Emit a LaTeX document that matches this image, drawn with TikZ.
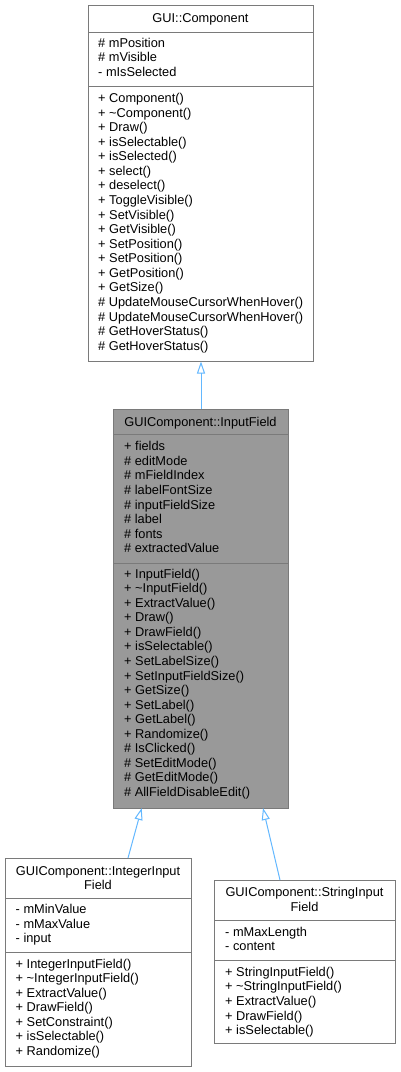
\documentclass[tikz,border=0pt]{standalone}
\usepackage{fontspec}
\setmainfont{Liberation Sans}
\usetikzlibrary{arrows.meta}
\definecolor{edgeblue}{HTML}{63B8FF}
\definecolor{boxline}{HTML}{7A7A7A}
\definecolor{curfill}{HTML}{999999}
\begin{document}
\begin{tikzpicture}[x=1pt,y=-1pt,
  box/.style={draw=boxline, line width=1pt, fill=white, inner sep=0pt, anchor=north west},
  curbox/.style={box, fill=curfill},
  mem/.style={anchor=base west, inner sep=0pt, font=\fontsize{12.8}{14.57}\selectfont},
  ttl/.style={anchor=base, inner sep=0pt, font=\fontsize{12.8}{14.57}\selectfont},
  sep/.style={draw=boxline, line width=1pt},
  inh/.style={draw=edgeblue, line width=1pt, -{Triangle[open, length=12pt, width=8pt]}}]
\useasboundingbox[fill=white] (0,0) rectangle (400,1072);

% ---- GUI::Component
\node[box, minimum width=225pt, minimum height=355.5pt] (comp) at (88,5) {};
\draw[sep] (88,32) -- (313,32);
\draw[sep] (88,86) -- (313,86);
\node[ttl] (compT) at (200.5,22.7) {GUI::Component};
\foreach \t [count=\i] in {\# mPosition, \# mVisible, - mIsSelected}
  \node[mem] (ca\i) at (98,47+14.57*\i-14.57) {\t};
\foreach \t [count=\i] in {+ Component(), + \textasciitilde Component(), + Draw(), + isSelectable(), + isSelected(), + select(), + deselect(), + ToggleVisible(), + SetVisible(), + GetVisible(), + SetPosition(), + SetPosition(), + GetPosition(), + GetSize(), \# UpdateMouseCursorWhenHover(), \# UpdateMouseCursorWhenHover(), \# GetHoverStatus(), \# GetHoverStatus()}
  \node[mem] (cm\i) at (98,102.5+14.57*\i-14.57) {\t};

% ---- GUIComponent::InputField
\node[curbox, minimum width=175pt, minimum height=399pt] (inp) at (113,409) {};
\draw[sep] (113,434) -- (288,434);
\draw[sep] (113,563) -- (288,563);
\node[ttl] (inpT) at (200.5,426) {GUIComponent::InputField};
\foreach \t [count=\i] in {+ fields, \# editMode, \# mFieldIndex, \# labelFontSize, \# inputFieldSize, \# label, \# fonts, \# extractedValue}
  \node[mem] (ia\i) at (124,450.8+14.57*\i-14.57) {\t};
\foreach \t [count=\i] in {+ InputField(), + \textasciitilde InputField(), + ExtractValue(), + Draw(), + DrawField(), + isSelectable(), + SetLabelSize(), + SetInputFieldSize(), + GetSize(), + SetLabel(), + GetLabel(), + Randomize(), \# IsClicked(), \# SetEditMode(), \# GetEditMode(), \# AllFieldDisableEdit()}
  \node[mem] (im\i) at (124,578+14.57*\i-14.57) {\t};

% ---- GUIComponent::IntegerInputField
\node[box, minimum width=186pt, minimum height=208pt] (int) at (5,858) {};
\draw[sep] (5,898) -- (191,898);
\draw[sep] (5,952.7) -- (191,952.7);
\node[ttl] (intT1) at (98,875) {GUIComponent::IntegerInput};
\node[ttl] (intT2) at (98,889.3) {Field};
\foreach \t [count=\i] in {- mMinValue, - mMaxValue, - input}
  \node[mem] (na\i) at (15.5,913.5+14.57*\i-14.57) {\t};
\foreach \t [count=\i] in {+ IntegerInputField(), + \textasciitilde IntegerInputField(), + ExtractValue(), + DrawField(), + SetConstraint(), + isSelectable(), + Randomize()}
  \node[mem] (nm\i) at (15.5,968+14.57*\i-14.57) {\t};

% ---- GUIComponent::StringInputField
\node[box, minimum width=181pt, minimum height=163pt] (str) at (214,880) {};
\draw[sep] (214,920) -- (395,920);
\draw[sep] (214,960) -- (395,960);
\node[ttl] (strT1) at (304.5,896.7) {GUIComponent::StringInput};
\node[ttl] (strT2) at (304.5,911) {Field};
\foreach \t [count=\i] in {- mMaxLength, - content}
  \node[mem] (sa\i) at (225,936+14.57*\i-14.57) {\t};
\foreach \t [count=\i] in {+ StringInputField(), + \textasciitilde StringInputField(), + ExtractValue(), + DrawField(), + isSelectable()}
  \node[mem] (sm\i) at (225,976.3+14.57*\i-14.57) {\t};

% ---- inheritance connectors
\coordinate (intTop) at (128,858);
\coordinate (inpBotL) at (141.7,808);
\coordinate (strTop) at (280,880);
\coordinate (inpBotR) at (263,808);
\draw[inh] (inp.north) -- (comp.south);
\draw[inh] (intTop) -- (inpBotL);
\draw[inh] (strTop) -- (inpBotR);
\end{tikzpicture}
\end{document}
